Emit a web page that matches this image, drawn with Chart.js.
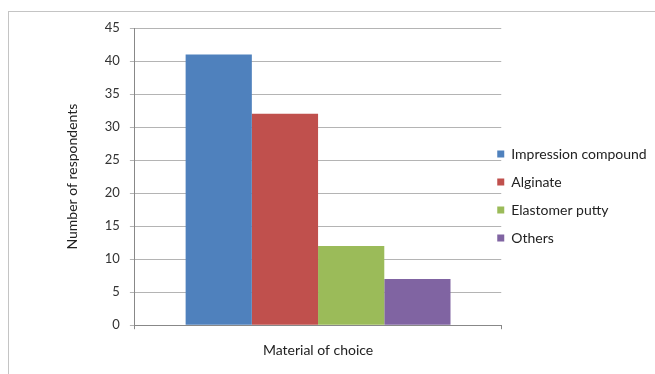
<!DOCTYPE html>
<html>
<head>
<meta charset="utf-8">
<script src="https://cdn.jsdelivr.net/npm/chart.js@4"></script>
<style>
  html, body { margin: 0; padding: 0; background: #fff; overflow: hidden; }
  #wrap { width: 655px; height: 374px; position: relative; }
</style>
</head>
<body>
<div id="wrap"><canvas id="barChart"></canvas></div>
<script>
// data
const categories = ["Material of choice"];
const seriesNames = ["Impression compound", "Alginate", "Elastomer putty", "Others"];
const seriesValues = [[41], [32], [12], [7]];
const seriesColors = ["#4F81BD", "#C0504D", "#9BBB59", "#8064A2"];
const yTicks = [0, 5, 10, 15, 20, 25, 30, 35, 40, 45];

const fontFamily = "Lato, 'Open Sans', sans-serif";

// light frame around the whole chart
const framePlugin = {
    id: "frame",
    beforeDraw(chart) {
        const ctx = chart.ctx;
        ctx.save();
        ctx.strokeStyle = "#c4c4c4";
        ctx.lineWidth = 1;
        ctx.strokeRect(8.5, 11.5, 700, 400);
        ctx.restore();
    }
};

// pull the legend in tight against the plot like the Excel original
const legendNudge = {
    id: "legendNudge",
    afterLayout(chart) {
        const lg = chart.legend;
        const pad = lg.options.labels.padding;
        const dx = (chart.chartArea.right - 4) - (lg.left + pad);
        lg.left += dx;
        lg.right += dx + 40;
        lg.top -= 4;
        lg.bottom -= 4;
    }
};

const barCtx = document.getElementById("barChart").getContext("2d");
const barChart = new Chart(barCtx, {
    type: "bar",
    data: {
        labels: categories,
        datasets: seriesNames.map((name, i) => ({
            label: name,
            data: seriesValues[i],
            backgroundColor: seriesColors[i],
            borderWidth: 0,
            categoryPercentage: 0.723,
            barPercentage: 1
        }))
    },
    options: {
        responsive: true,
        maintainAspectRatio: false,
        animation: false,
        layout: {
            padding: { left: 64, top: 28, right: 8, bottom: 2 }
        },
        plugins: {
            tooltip: { enabled: false },
            legend: {
                position: "right",
                align: "center",
                labels: {
                    boxWidth: 7,
                    boxHeight: 7,
                    padding: 14,
                    color: "#222",
                    font: { family: fontFamily, size: 14 }
                }
            }
        },
        scales: {
            x: {
                grid: {
                    display: true,
                    drawOnChartArea: false,
                    tickLength: 4,
                    color: "#888"
                },
                border: { color: "#888" },
                ticks: {
                    padding: 13,
                    color: "#222",
                    font: { family: fontFamily, size: 14 }
                }
            },
            y: {
                min: 0,
                max: 45,
                afterBuildTicks(scale) {
                    scale.ticks = yTicks.map(v => ({ value: v }));
                },
                grid: {
                    color: "#b4b4b4",
                    tickLength: 5
                },
                border: { color: "#888" },
                ticks: {
                    padding: 10,
                    color: "#333",
                    font: { family: fontFamily, size: 13 }
                },
                title: {
                    display: true,
                    text: "Number of respondents",
                    color: "#222",
                    padding: { top: 0, bottom: 14 },
                    font: { family: fontFamily, size: 14 }
                }
            }
        }
    },
    plugins: [framePlugin, legendNudge]
});
</script>
</body>
</html>
